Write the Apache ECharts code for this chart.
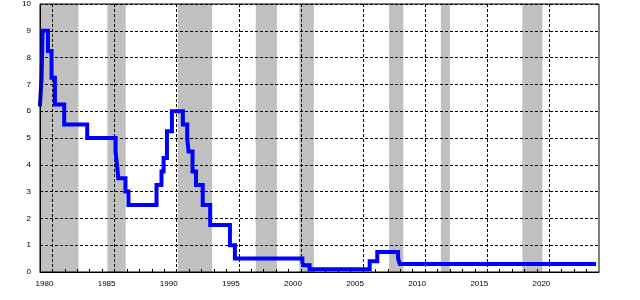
<!DOCTYPE html>
<html>
<head>
<meta charset="utf-8">
<script src="https://cdn.jsdelivr.net/npm/echarts@6/dist/echarts.min.js"></script>
<style>html,body{margin:0;padding:0;background:#fff}#c{width:640px;height:300px}</style>
</head>
<body>
<div id="c"></div>
<script>
// Step dates (decimal years) and rate values (%)
var rateDates  = [1980.0, 1980.13, 1980.21, 1980.64, 1980.93, 1981.2, 1981.95, 1983.8, 1986.08, 1986.2, 1986.3, 1986.88, 1987.12, 1989.38, 1989.78, 1989.95, 1990.22, 1990.62, 1991.5, 1991.85, 1991.96, 1992.28, 1992.56, 1993.1, 1993.7, 1995.29, 1995.69, 2001.12, 2001.2, 2001.7, 2006.54, 2007.15, 2008.83, 2008.97, 2024.6];
var rateValues = [6.25, 7.25, 9.0, 8.25, 7.25, 6.25, 5.5, 5.0, 4.5, 4.0, 3.5, 3.0, 2.5, 3.25, 3.75, 4.25, 5.25, 6.0, 5.5, 5.0, 4.5, 3.75, 3.25, 2.5, 1.75, 1.0, 0.5, 0.35, 0.25, 0.1, 0.4, 0.75, 0.5, 0.3, 0.3];
// Recession periods (start, end)
var recessionStart = [1980.08, 1985.42, 1991.1, 1997.37, 2000.88, 2008.1, 2012.27, 2018.83];
var recessionEnd   = [1983.1, 1986.9, 1993.85, 1999.07, 2002.05, 2009.25, 2013.0, 2020.45];
// Vertical grid line years
var gridYears = [1981, 1986, 1991, 1996, 2001, 2006, 2011, 2016, 2021];
var xMin = 1980, xMax = 2025, yMin = 0, yMax = 10;

var font = "'Liberation Sans Narrow', 'Liberation Sans', Arial, sans-serif";
var lineData = rateDates.map(function (d, i) { return [d, rateValues[i]]; });
var areas = recessionStart.map(function (s, i) { return [{ xAxis: s }, { xAxis: recessionEnd[i] }]; });
var vlines = gridYears.map(function (y) { return { xAxis: y }; });

var chart = echarts.init(document.getElementById('c'), null, { renderer: 'canvas' });
chart.setOption({
  animation: false,
  grid: { left: 40, top: 1, width: 559, height: 271, show: true, borderColor: '#000', borderWidth: 1, backgroundColor: 'transparent', z: 6 },
  xAxis: {
    type: 'value', min: xMin, max: xMax, interval: 1, z: 2,
    axisLine: { show: true, lineStyle: { color: '#000', width: 1 } },
    axisTick: { show: true, inside: true, length: 3, lineStyle: { color: '#000' } },
    splitLine: { show: false },
    axisLabel: {
      show: true, color: '#000', fontSize: 8, fontFamily: font, margin: 8,
      padding: [0, 0, 0, 9],
      formatter: function (v) { return (Math.round(v) % 5 === 0) ? String(Math.round(v)) : ''; },
      showMaxLabel: false
    }
  },
  yAxis: {
    type: 'value', min: yMin, max: yMax, interval: 1, z: 2,
    axisLine: { show: true, lineStyle: { color: '#000', width: 1 } },
    axisTick: { show: false },
    splitLine: { show: true, lineStyle: { color: '#000', type: [3, 2], width: 1 } },
    axisLabel: { color: '#000', fontSize: 8, fontFamily: font, margin: 9, padding: [12, 0, 0, 0] }
  },
  series: [
    {
      type: 'line', data: [], z: 0, silent: true,
      markArea: { silent: true, z: 0, itemStyle: { color: '#c0c0c0' }, data: areas }
    },
    {
      type: 'line', data: [], z: 2, silent: true,
      markLine: {
        silent: true, z: 2, symbol: ['none', 'none'], label: { show: false },
        lineStyle: { color: '#000', type: [3, 2], width: 1 },
        data: vlines
      }
    },
    {
      type: 'line', data: lineData, step: 'end', z: 4, showSymbol: false, symbol: 'none',
      lineStyle: { color: '#0000ff', width: 4, cap: 'square', join: 'miter' }
    }
  ]
});
</script>
</body>
</html>
